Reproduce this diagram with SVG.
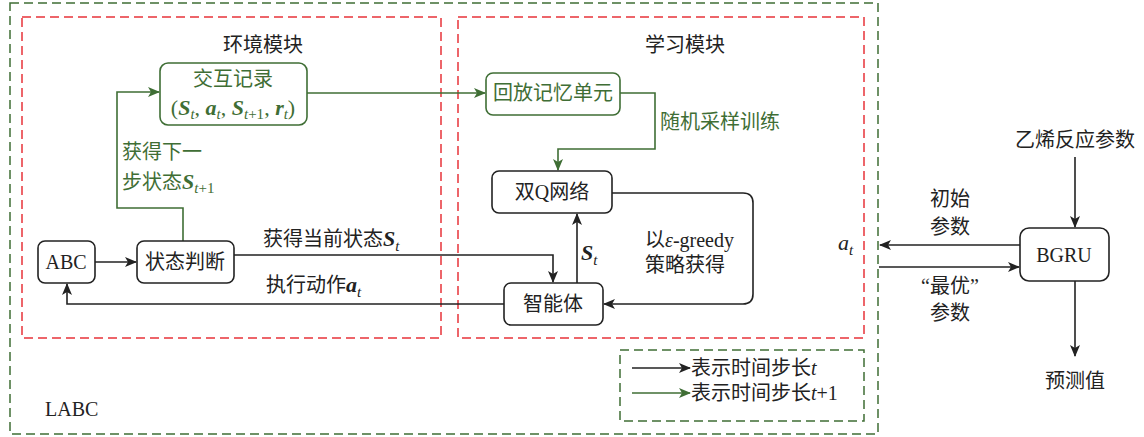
<svg xmlns="http://www.w3.org/2000/svg" width="1144" height="437" viewBox="0 0 1144 437">
<defs>
<style>
text{font-family:"Liberation Serif","Noto Sans CJK SC",serif;font-size:20px;fill:#222}
.g{fill:#3f6e35}
.i{font-style:italic}
.m{font-style:italic;font-weight:bold;font-size:22px}
.mn{font-style:italic;font-size:22px}
.sub{font-size:15px;font-style:italic}
.sup{font-size:15px}
.node{fill:#fff;stroke:#222;stroke-width:1.6}
.gnode{fill:#fff;stroke:#3f6e35;stroke-width:1.6}
.k{fill:none;stroke:#222;stroke-width:1.6}
.gk{fill:none;stroke:#3f6e35;stroke-width:1.6}
.red{fill:none;stroke:#e8333a;stroke-width:1.5;stroke-dasharray:9 5}
.grn{fill:none;stroke:#3f6e35;stroke-width:1.5;stroke-dasharray:9 5}
</style>
<marker id="ak" viewBox="0 0 12 10" refX="11" refY="5" markerWidth="12" markerHeight="10" markerUnits="userSpaceOnUse" orient="auto"><path d="M0,0 L12,5 L0,10 L3,5 Z" fill="#222"/></marker>
<marker id="ag" viewBox="0 0 12 10" refX="11" refY="5" markerWidth="12" markerHeight="10" markerUnits="userSpaceOnUse" orient="auto"><path d="M0,0 L12,5 L0,10 L3,5 Z" fill="#3f6e35"/></marker>
</defs>
<rect width="1144" height="437" fill="#fff"/>
<g id="frames">
<rect class="grn" x="10" y="3" width="868" height="431"/>
<rect class="red" x="22" y="17" width="419" height="321"/>
<rect class="red" x="458" y="17" width="406" height="321"/>
<rect class="grn" x="620" y="350" width="244" height="71"/>
<text x="263" y="52" text-anchor="middle">环境模块</text>
<text x="685" y="52" text-anchor="middle">学习模块</text>
<text x="45" y="416">LABC</text>
</g>
<g id="connectors">
<path class="k" d="M95,262 H136" marker-end="url(#ak)"/>
<path class="k" d="M234,255 H553 V282" marker-end="url(#ak)"/>
<path class="k" d="M504,304 H67 V284" marker-end="url(#ak)"/>
<path class="k" d="M577,283 V214" marker-end="url(#ak)"/>
<path class="k" d="M612,193 H743 Q753,193 753,203 V294 Q753,304 743,304 H604" marker-end="url(#ak)"/>
<path class="gk" d="M183,241 V208 H117 V92 H159" marker-end="url(#ag)"/>
<path class="gk" d="M307,93 H485" marker-end="url(#ag)"/>
<path class="gk" d="M620,93 H655 V149 H558 V170" marker-end="url(#ag)"/>
<path class="k" d="M1020,245 H880" marker-end="url(#ak)"/>
<path class="k" d="M879,267 H1019" marker-end="url(#ak)"/>
<path class="k" d="M1075,157 V227" marker-end="url(#ak)"/>
<path class="k" d="M1075,281 V356" marker-end="url(#ak)"/>
<path class="k" d="M632,368 H690" marker-end="url(#ak)"/>
<path class="gk" d="M632,393 H690" marker-end="url(#ag)"/>
</g>
<g id="labels">
<text class="g" x="122" y="159">获得下一</text>
<text class="g" x="122" y="189">步状态<tspan class="m">S</tspan><tspan class="sub" dy="4">t</tspan><tspan class="sup">+1</tspan></text>
<text x="263" y="246">获得当前状态<tspan class="m">S</tspan><tspan class="sub" dy="5">t</tspan></text>
<text x="266" y="292">执行动作<tspan class="m">a</tspan><tspan class="sub" dy="5">t</tspan></text>
<text class="g" x="660" y="129">随机采样训练</text>
<text x="645" y="247">以<tspan class="i">ε</tspan>-greedy</text>
<text x="645" y="272">策略获得</text>
<text x="581" y="260"><tspan class="m">S</tspan><tspan class="sub" dy="5">t</tspan></text>
<text x="838" y="250"><tspan class="mn">a</tspan><tspan class="sub" dy="5">t</tspan></text>
<text x="950" y="206" text-anchor="middle">初始</text>
<text x="950" y="234" text-anchor="middle">参数</text>
<text x="950" y="293" text-anchor="middle">“最优”</text>
<text x="950" y="320" text-anchor="middle">参数</text>
<text x="1075" y="147" text-anchor="middle">乙烯反应参数</text>
<text x="1075" y="388" text-anchor="middle">预测值</text>
<text x="691" y="375" font-size="19.5">表示时间步长<tspan class="i">t</tspan></text>
<text x="691" y="400" font-size="19.5">表示时间步长<tspan class="i">t</tspan>+1</text>
</g>
<g id="node-record">
<rect class="gnode" x="160" y="63" width="147" height="62" rx="8"/>
<text class="g" x="233" y="86" text-anchor="middle">交互记录</text>
<text class="g" x="233" y="115" text-anchor="middle"><tspan font-size="22">(</tspan><tspan class="m">S</tspan><tspan class="sub" dy="4">t</tspan><tspan font-size="22" dy="-4">, </tspan><tspan class="m">a</tspan><tspan class="sub" dy="4">t</tspan><tspan font-size="22" dy="-4">, </tspan><tspan class="m">S</tspan><tspan class="sub" dy="4">t</tspan><tspan class="sup">+1</tspan><tspan font-size="22" dy="-4">, </tspan><tspan class="m">r</tspan><tspan class="sub" dy="4">t</tspan><tspan font-size="22" dy="-4">)</tspan></text>
</g>
<g id="node-replay">
<rect class="gnode" x="486" y="73" width="134" height="42" rx="7"/>
<text class="g" x="553" y="100" text-anchor="middle">回放记忆单元</text>
</g>
<g id="node-dqn">
<rect class="node" x="492" y="171" width="120" height="42" rx="7"/>
<text x="552" y="199" text-anchor="middle">双Q网络</text>
</g>
<g id="node-agent">
<rect class="node" x="504" y="283" width="99" height="42" rx="7"/>
<text x="553" y="311" text-anchor="middle">智能体</text>
</g>
<g id="node-abc">
<rect class="node" x="38" y="241" width="57" height="42" rx="7"/>
<text x="66" y="269" text-anchor="middle">ABC</text>
</g>
<g id="node-state">
<rect class="node" x="137" y="241" width="97" height="42" rx="7"/>
<text x="185" y="269" text-anchor="middle">状态判断</text>
</g>
<g id="node-bgru">
<rect class="node" x="1020" y="228" width="89" height="53" rx="9"/>
<text x="1064" y="262" text-anchor="middle">BGRU</text>
</g>
</svg>
